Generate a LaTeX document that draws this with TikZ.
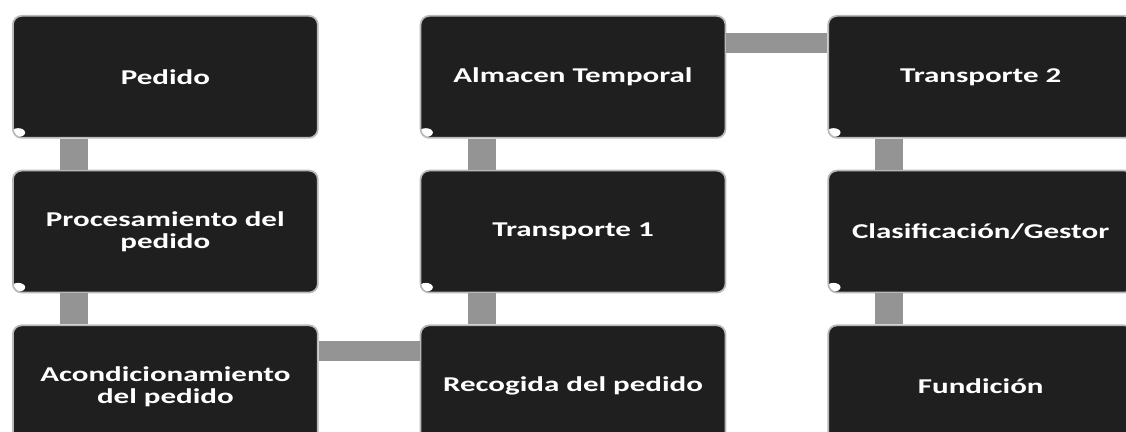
\documentclass[tikz,border=0pt]{standalone}
\usepackage{fontspec}
\newfontfamily\cajafont[FakeStretch=1.47]{Carlito}
\usetikzlibrary{positioning}

\begin{document}
\begin{tikzpicture}[x=0.02cm, y=0.02cm, node distance=0.62cm and 2.02cm,
  paso/.style={draw=gray!55, line width=1pt, fill=black!88, rounded corners=5pt,
    minimum width=6.1cm, minimum height=2.44cm, align=center, text=white,
    font=\cajafont\bfseries\fontsize{12}{12.5}\selectfont,
    path picture={\fill[white] ([xshift=3pt,yshift=3pt]path picture bounding box.south west)
      ellipse (4pt and 2.5pt);}},
  barrav/.style={draw=black!42, line width=0.56cm},
  barrah/.style={draw=black!42, line width=0.4cm}]
  \useasboundingbox (0,0) rectangle (1126,432);
  % columna 1
  \node[paso, anchor=north west] (ped) at (12,417) {Pedido};
  \node[paso, below=of ped] (proc) {Procesamiento del\\pedido};
  \node[paso, below=of proc] (acond) {Acondicionamiento\\del pedido};
  % columna 2
  \node[paso, right=of acond] (rec) {Recogida del pedido};
  \node[paso, above=of rec] (tr1) {Transporte 1};
  \node[paso, above=of tr1] (alm) {Almacen Temporal};
  % columna 3
  \node[paso, right=of alm] (tr2) {Transporte 2};
  \node[paso, below=of tr2] (clas) {Clasificación/Gestor};
  \node[paso, below=of clas] (fun) {Fundición};
  % uniones
  \draw[barrav] ([xshift=1.24cm]ped.south west) -- ([xshift=1.24cm]proc.north west);
  \draw[barrav] ([xshift=1.24cm]proc.south west) -- ([xshift=1.24cm]acond.north west);
  \draw[barrah] ([yshift=-0.54cm]acond.north east) -- ([yshift=-0.54cm]rec.north west);
  \draw[barrav] ([xshift=1.24cm]rec.north west) -- ([xshift=1.24cm]tr1.south west);
  \draw[barrav] ([xshift=1.24cm]tr1.north west) -- ([xshift=1.24cm]alm.south west);
  \draw[barrah] ([yshift=-0.56cm]alm.north east) -- ([yshift=-0.56cm]tr2.north west);
  \draw[barrav] ([xshift=1.24cm]tr2.south west) -- ([xshift=1.24cm]clas.north west);
  \draw[barrav] ([xshift=1.24cm]clas.south west) -- ([xshift=1.24cm]fun.north west);
\end{tikzpicture}
\end{document}
